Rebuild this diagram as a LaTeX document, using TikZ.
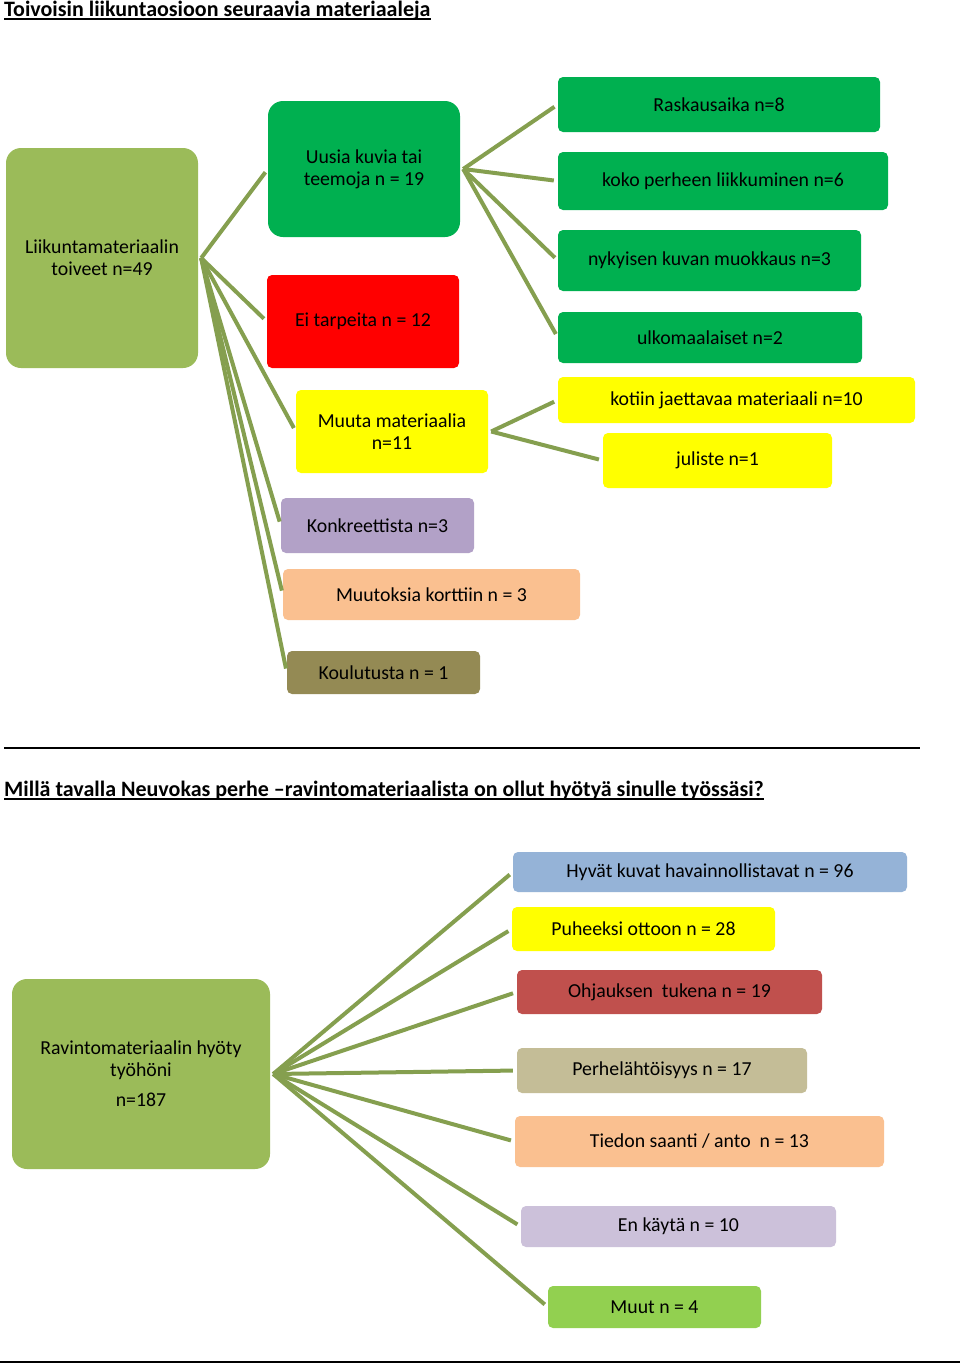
\documentclass[tikz,border=0pt]{standalone}
\usepackage{fontspec}
\setmainfont{Carlito}
\definecolor{rootgreen}{HTML}{9BBB59}
\definecolor{brightgreen}{HTML}{00B050}
\definecolor{cred}{HTML}{FF0000}
\definecolor{cyellow}{HTML}{FFFF00}
\definecolor{clilac}{HTML}{B2A1C7}
\definecolor{cpeach}{HTML}{FAC090}
\definecolor{colive}{HTML}{948A54}
\definecolor{cblue}{HTML}{95B3D7}
\definecolor{cbrick}{HTML}{C0504D}
\definecolor{ctan}{HTML}{C4BD97}
\definecolor{clav}{HTML}{CCC1DA}
\definecolor{clime}{HTML}{92D050}
\definecolor{linegreen}{HTML}{859F4F}
\begin{document}
\begin{tikzpicture}[x=1pt,y=-1pt,
  box/.style={draw=none, rounded corners=5pt, inner sep=0pt, align=center,
    font=\fontsize{19.8}{22}\selectfont, text=black},
  bigbox/.style={box, rounded corners=15pt},
  conn/.style={draw=linegreen, line width=4pt, shorten >=4pt},
  ttl/.style={anchor=base west, inner sep=0pt, font=\fontsize{22}{26}\selectfont\bfseries}]
\useasboundingbox (0,0) rectangle (960,1363);
\fill[white] (0,0) rectangle (960,1363);

% ---------- top title ----------
\node[ttl] (t1) at (4,16) {Toivoisin liikuntaosioon seuraavia materiaaleja};
\draw[line width=1.6pt] ([yshift=-3pt]t1.base west) -- ([yshift=-3pt]t1.base east);

% ---------- top diagram ----------
\node[bigbox, fill=rootgreen, minimum width=192pt, minimum height=220pt] (root1) at (102,258) {Liikuntamateriaalin\\toiveet n=49};
\node[bigbox, fill=brightgreen, minimum width=192pt, minimum height=136pt] (uusia) at (364,169) {Uusia kuvia tai\\teemoja n = 19};
\node[box, fill=cred, minimum width=192pt, minimum height=93pt] (ei) at (363,321.5) {Ei tarpeita n = 12};
\node[box, fill=cyellow, minimum width=192pt, minimum height=83pt] (muuta) at (392,431.5) {Muuta materiaalia\\n=11};
\node[box, fill=clilac, minimum width=193pt, minimum height=55pt] (konk) at (377.5,525.5) {Konkreettista n=3};
\node[box, fill=cpeach, minimum width=297pt, minimum height=51pt] (muutok) at (431.5,594.5) {Muutoksia korttiin n = 3};
\node[box, fill=colive, minimum width=193pt, minimum height=43pt] (koul) at (383.5,672.5) {Koulutusta n = 1};

\node[box, fill=brightgreen, minimum width=322pt, minimum height=55pt] (rask) at (719,104.5) {Raskausaika n=8};
\node[box, fill=brightgreen, minimum width=330pt, minimum height=58pt] (koko) at (723,181) {koko perheen liikkuminen n=6};
\node[box, fill=brightgreen, minimum width=303pt, minimum height=61pt] (nyk) at (709.5,260.5) {nykyisen kuvan muokkaus n=3};
\node[box, fill=brightgreen, minimum width=304pt, minimum height=51pt] (ulko) at (710,337.5) {ulkomaalaiset n=2};
\node[box, fill=cyellow, minimum width=357pt, minimum height=46pt] (kotiin) at (736.5,400) {kotiin jaettavaa materiaali n=10};
\node[box, fill=cyellow, minimum width=229pt, minimum height=55pt] (jul) at (717.5,460.5) {juliste n=1};

\coordinate (h1) at ([xshift=3pt]root1.east);
\coordinate (h2) at ([xshift=3pt]uusia.east);
\coordinate (h3) at ([xshift=3pt]muuta.east);
\foreach \t in {uusia,ei,muuta,konk,muutok,koul} \draw[conn] (h1) -- (\t.west);
\foreach \t in {rask,koko,nyk,ulko} \draw[conn] (h2) -- (\t.west);
\foreach \t in {kotiin,jul} \draw[conn] (h3) -- (\t.west);

% ---------- separator ----------
\coordinate (s1) at (4,748);
\coordinate (s2) at (920,748);
\draw[line width=2.4pt] (s1) -- (s2);

% ---------- second title ----------
\node[ttl] (t2) at (4,796) {Millä tavalla Neuvokas perhe –ravintomateriaalista on ollut hyötyä sinulle työssäsi?};
\draw[line width=1.6pt] ([yshift=-3pt]t2.base west) -- ([yshift=-3pt]t2.base east);

% ---------- bottom diagram ----------
\node[bigbox, fill=rootgreen, minimum width=258pt, minimum height=190pt] (root2) at (141,1074) {Ravintomateriaalin hyöty\\työhöni\\[8pt]n=187};
\node[box, fill=cblue, minimum width=394pt, minimum height=40pt] (hyv) at (710,872) {Hyvät kuvat havainnollistavat n = 96};
\node[box, fill=cyellow, minimum width=263pt, minimum height=44pt] (puh) at (643.5,929) {Puheeksi ottoon n = 28};
\node[box, fill=cbrick, minimum width=305pt, minimum height=44pt] (ohj) at (669.5,992) {Ohjauksen\ \ tukena n = 19};
\node[box, fill=ctan, minimum width=290pt, minimum height=45pt] (perhe) at (662,1070.5) {Perhelähtöisyys n = 17};
\node[box, fill=cpeach, minimum width=369pt, minimum height=51pt] (tied) at (699.5,1141.5) {Tiedon saanti / anto\ \ n = 13};
\node[box, fill=clav, minimum width=315pt, minimum height=41pt] (en) at (678.5,1226.5) {En käytä n = 10};
\node[box, fill=clime, minimum width=213pt, minimum height=42pt] (muut) at (654.5,1307) {Muut n = 4};

\coordinate (h4) at ([xshift=3pt]root2.east);
\foreach \t in {hyv,puh,ohj,perhe,tied,en,muut} \draw[conn] (h4) -- (\t.west);

% ---------- bottom rule ----------
\coordinate (b1) at (0,1361.5);
\coordinate (b2) at (960,1361.5);
\draw[line width=2pt] (b1) -- (b2);
\end{tikzpicture}
\end{document}
